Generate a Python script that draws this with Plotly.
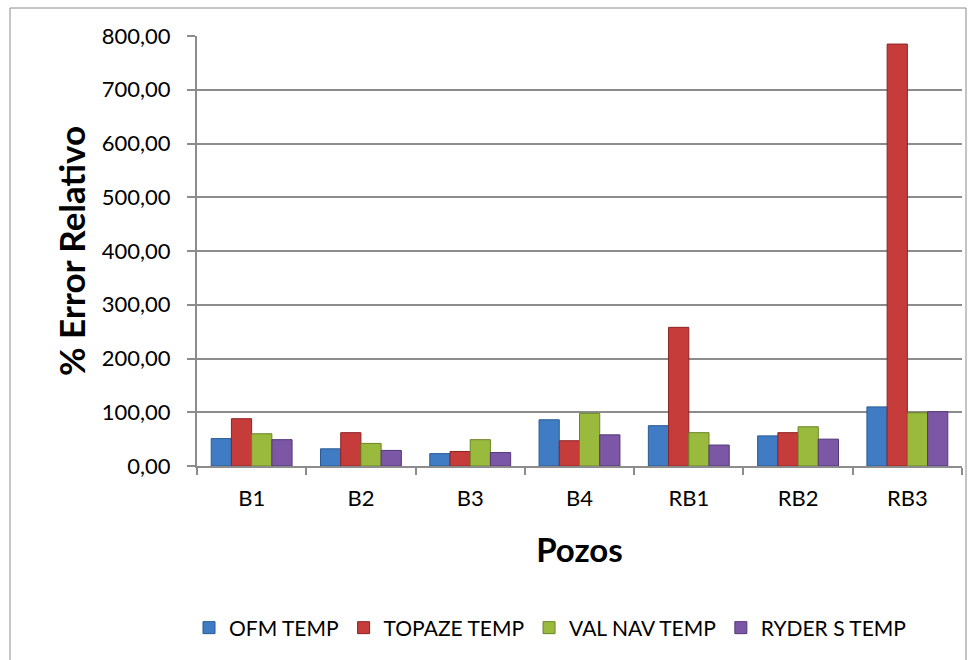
import plotly.graph_objects as go

# Pozos (wells) and relative error per temperature method
pozos = ["B1", "B2", "B3", "B4", "RB1", "RB2", "RB3"]
ofm_temp = [51, 32, 23, 86, 75, 56, 110]
topaze_temp = [88, 62, 27, 47, 258, 62, 785]
val_nav_temp = [60, 42, 49, 98, 62, 73, 99]
ryder_s_temp = [49, 29, 25, 58, 39, 50, 101]

series = [
    ("OFM TEMP", ofm_temp, "#3f7cc4", "#2a5a94"),
    ("TOPAZE TEMP", topaze_temp, "#c63c3b", "#8e2323"),
    ("VAL NAV TEMP", val_nav_temp, "#9aba3e", "#6a8526"),
    ("RYDER S TEMP", ryder_s_temp, "#7b57a6", "#533878"),
]

W, H = 977, 660
ML, MR, MT, MB = 197, 15, 36, 194
FONT = "Lato, 'Open Sans', sans-serif"

fig = go.Figure()
for name, vals, color, edge in series:
    fig.add_trace(go.Bar(
        x=pozos, y=vals, name=name,
        marker=dict(color=color, line=dict(color=edge, width=1)),
    ))

pw = W - ML - MR
ph = H - MT - MB

fig.update_layout(
    width=W, height=H,
    margin=dict(l=ML, r=MR, t=MT, b=MB),
    paper_bgcolor="white", plot_bgcolor="white",
    separators=",.",
    barmode="group", bargap=0.26, bargroupgap=0,
    font=dict(family=FONT, size=21, color="black"),
    showlegend=True,
    legend=dict(
        orientation="h", x=(550 - ML) / pw, xanchor="center",
        y=-(628 - (H - MB)) / ph, yanchor="middle",
        font=dict(size=21), itemwidth=30, tracegroupgap=0,
        bgcolor="rgba(0,0,0,0)",
    ),
    shapes=[dict(
        type="rect", xref="paper", yref="paper",
        x0=(10 - ML) / pw, x1=(966 - ML) / pw,
        y0=-(H + 5 - (H - MB)) / ph, y1=1 + (MT - 8) / ph,
        line=dict(color="#8a8a8a", width=1), layer="below",
    )],
)

fig.update_xaxes(
    type="category", showline=True, linecolor="#8c8c8c", linewidth=2,
    ticks="outside", tickson="boundaries", ticklen=7, tickcolor="#8c8c8c", tickwidth=2,
    showgrid=False, tickfont=dict(size=22), ticklabelstandoff=12,
    title=dict(text="<b>Pozos</b>", font=dict(size=33), standoff=28),
)
fig.update_yaxes(
    range=[0, 800], dtick=100, tickformat=".2f",
    showline=True, linecolor="#8c8c8c", linewidth=2,
    ticks="outside", ticklen=8, tickcolor="#8c8c8c", tickwidth=2,
    showgrid=True, gridcolor="#8c8c8c", gridwidth=2,
    zeroline=False, tickfont=dict(size=22), ticklabelstandoff=12,
    title=dict(text="<b>% Error Relativo</b>", font=dict(size=35), standoff=6),
)

fig.write_html("out.html")
